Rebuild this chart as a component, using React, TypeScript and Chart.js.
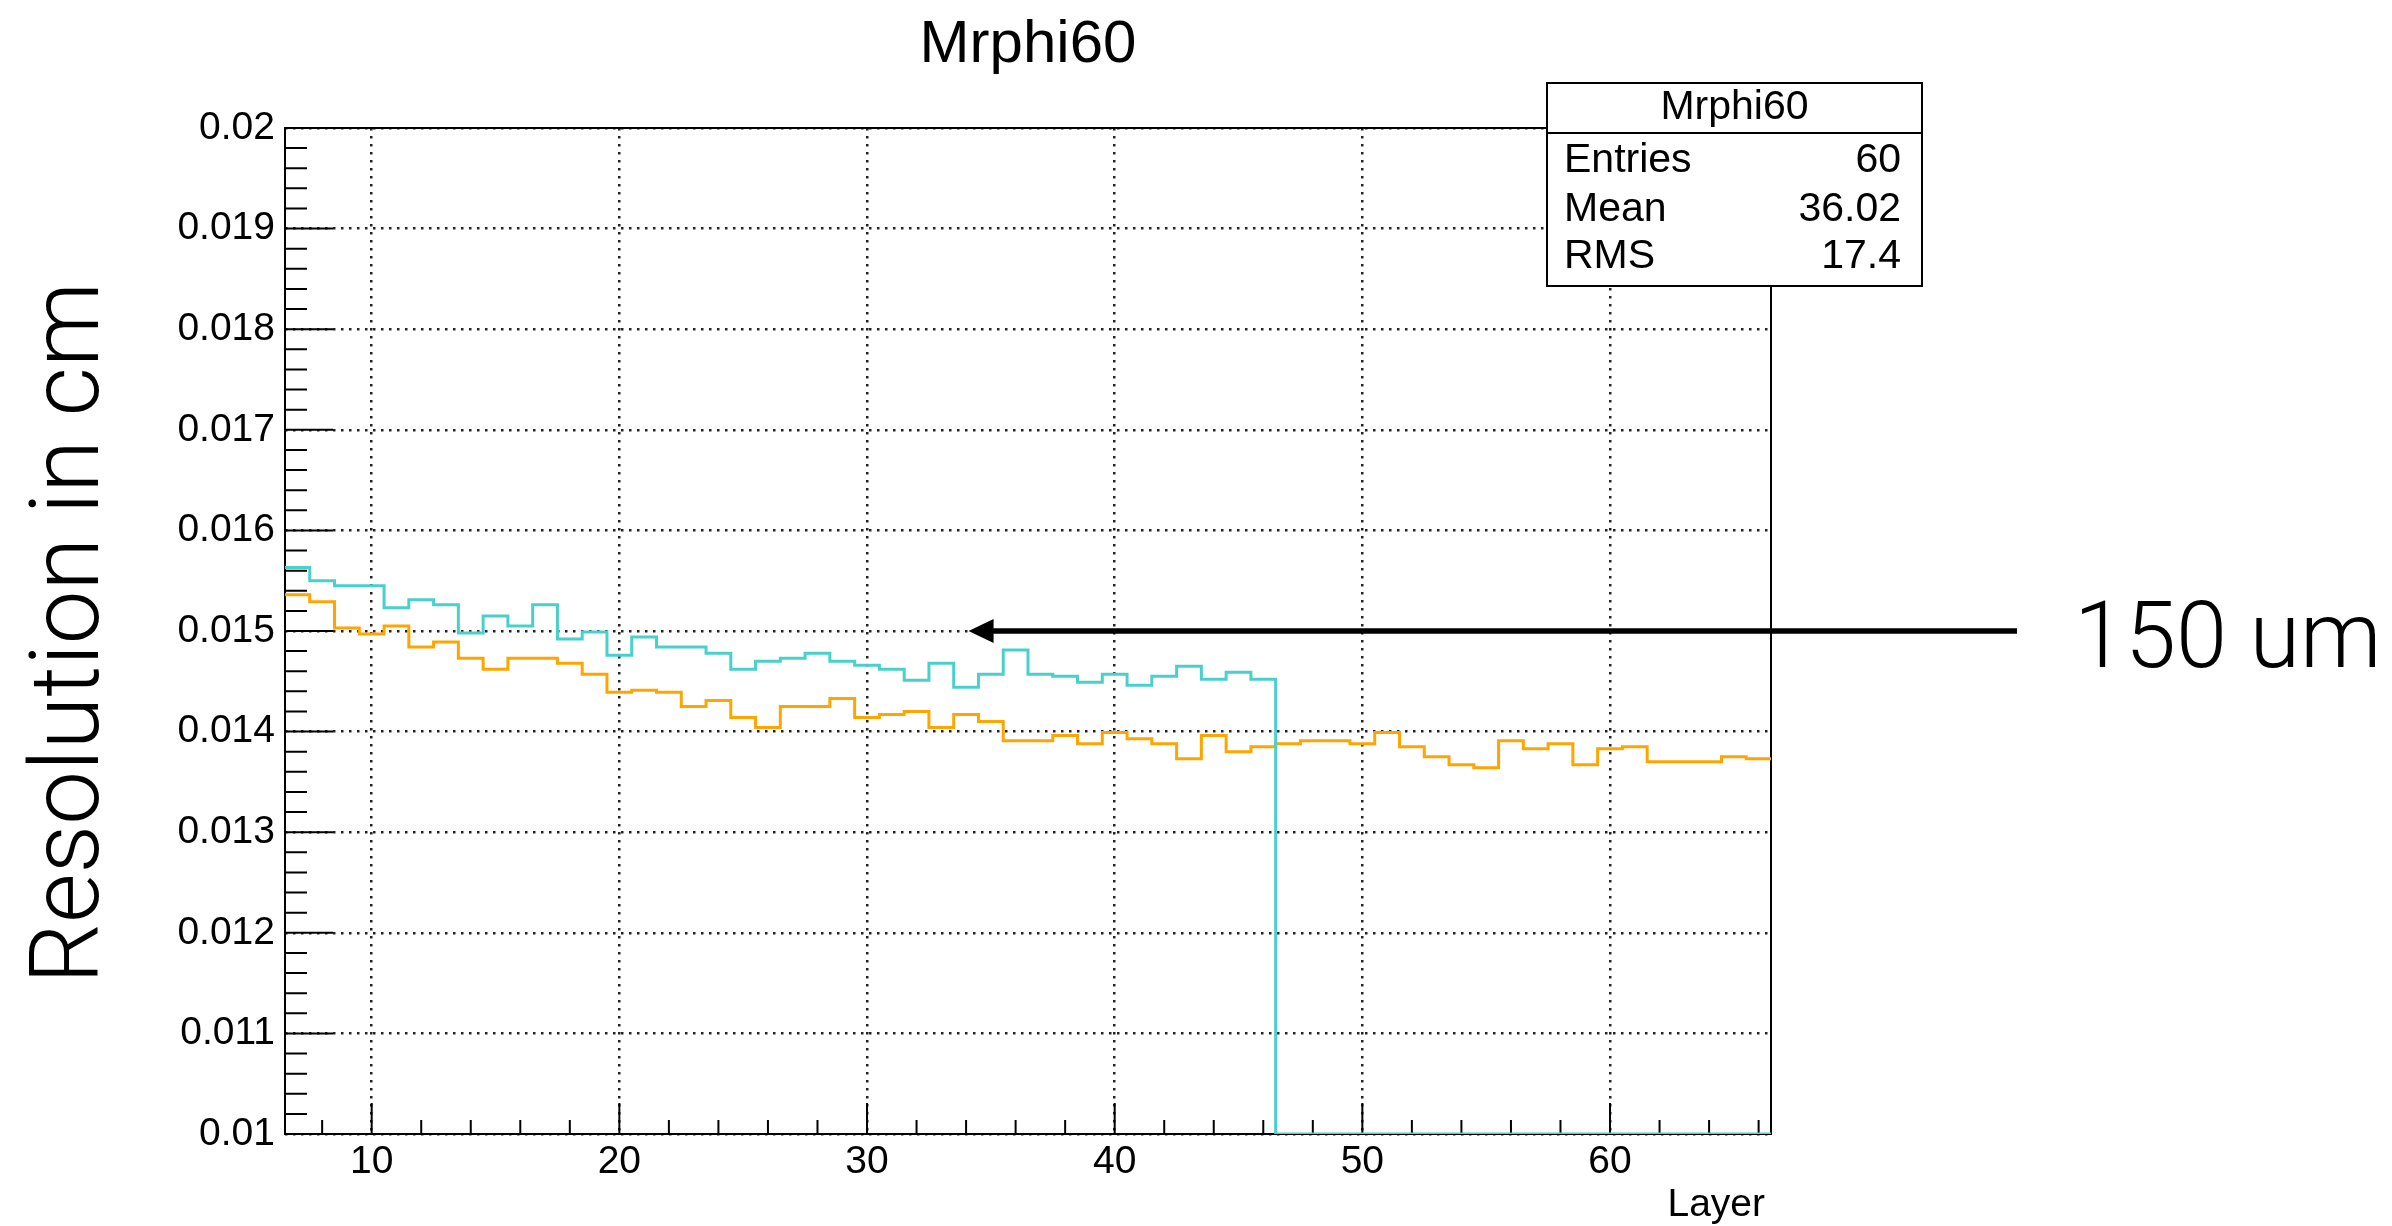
import React, { useEffect, useRef } from "react";
import { Chart, registerables } from "chart.js";

Chart.register(...registerables);

// ---- data ----
const LAYERS = [
  7, 8, 9, 10, 11, 12, 13, 14, 15, 16, 17, 18, 19, 20, 21, 22, 23, 24, 25, 26,
  27, 28, 29, 30, 31, 32, 33, 34, 35, 36, 37, 38, 39, 40, 41, 42, 43, 44, 45, 46,
  47, 48, 49, 50, 51, 52, 53, 54, 55, 56, 57, 58, 59, 60, 61, 62, 63, 64, 65, 66,
];

const RES_CYAN = [
  0.01563, 0.0155, 0.01545, 0.01545, 0.01523, 0.01531, 0.01526, 0.01498, 0.01515, 0.01505,
  0.01526, 0.01492, 0.01499, 0.01476, 0.01494, 0.01484, 0.01484, 0.01478, 0.01462, 0.0147,
  0.01473, 0.01478, 0.0147, 0.01466, 0.01462, 0.01451, 0.01468, 0.01444, 0.01457, 0.01481,
  0.01457, 0.01455, 0.01449, 0.01457, 0.01446, 0.01455, 0.01465, 0.01452, 0.01459, 0.01452,
  0, 0, 0, 0, 0, 0, 0, 0, 0, 0,
  0, 0, 0, 0, 0, 0, 0, 0, 0, 0,
];

const RES_ORANGE = [
  0.01536, 0.01529, 0.01503, 0.01497, 0.01505, 0.01484, 0.01489, 0.01473, 0.01462, 0.01473,
  0.01473, 0.01468, 0.01457, 0.01439, 0.01441, 0.01439, 0.01425, 0.01431, 0.01414, 0.01404,
  0.01425, 0.01425, 0.01433, 0.01414, 0.01417, 0.0142, 0.01404, 0.01417, 0.0141, 0.01391,
  0.01391, 0.01396, 0.01388, 0.01399, 0.01393, 0.01388, 0.01373, 0.01396, 0.0138, 0.01385,
  0.01388, 0.01391, 0.01391, 0.01388, 0.01399, 0.01385, 0.01375, 0.01367, 0.01364, 0.01391,
  0.01383, 0.01388, 0.01367, 0.01383, 0.01385, 0.0137, 0.0137, 0.0137, 0.01375, 0.01373,
];

const X_TICKS = [10, 20, 30, 40, 50, 60];
const Y_TICKS = [0.01, 0.011, 0.012, 0.013, 0.014, 0.015, 0.016, 0.017, 0.018, 0.019, 0.02];
const X_MIN = 6.5;
const X_MAX = 66.5;
const Y_MIN = 0.01;
const Y_MAX = 0.02;

const TITLE = "Mrphi60";
const X_TITLE = "Layer";
const Y_TITLE = "Resolution in cm";
const STAT_HEADER = "Mrphi60";
const STAT_NAMES = ["Entries", "Mean", "RMS"];
const STAT_VALUES = ["60", "36.02", "17.4"];
const NOTE_TEXT = "150 um";
const NOTE_VALUE = 0.015;
const ARROW_TIP_LAYER = 34.1;

// ---- styles ----
const ROOT_FONT = "'Liberation Sans', Arial, Helvetica, sans-serif";
const LIGHT_FONT = "Roboto, 'Liberation Sans', sans-serif";
const CYAN = "#48D1CC";
const ORANGE = "#FFA500";

function toSteps(values: number[]) {
  const pts = values.map((v, i) => ({ x: LAYERS[i] - 0.5, y: v }));
  pts.push({ x: LAYERS[LAYERS.length - 1] + 0.5, y: values[values.length - 1] });
  return pts;
}

const clampPlugin = {
  id: "frameClamp",
  afterDatasetsUpdate(chart: any) {
    const { top, bottom } = chart.chartArea;
    chart.data.datasets.forEach((_: any, i: number) => {
      const meta = chart.getDatasetMeta(i);
      meta.data.forEach((p: any) => {
        if (p.y > bottom) p.y = bottom;
        if (p.y < top) p.y = top;
      });
      if (meta.dataset) (meta.dataset as any)._path = undefined;
    });
  },
};

const decorPlugin = {
  id: "decor",
  beforeDatasetsDraw(chart: any) {
    const ctx = chart.ctx as CanvasRenderingContext2D;
    const a = chart.chartArea;
    const xs = chart.scales.x;
    const ys = chart.scales.y;
    ctx.save();
    ctx.strokeStyle = "#000";
    ctx.lineWidth = 2;
    ctx.strokeRect(a.left, a.top, a.right - a.left, a.bottom - a.top);
    ctx.beginPath();
    for (let k = 0; k <= 50; k++) {
      const v = Y_MIN + (k * (Y_MAX - Y_MIN)) / 50;
      const y = ys.getPixelForValue(v);
      const len = k % 5 === 0 ? 48 : 22;
      ctx.moveTo(a.left, y);
      ctx.lineTo(a.left + len, y);
    }
    for (let u = 8; u <= 66; u += 2) {
      const x = xs.getPixelForValue(u);
      const len = u % 10 === 0 ? 31 : 14;
      ctx.moveTo(x, a.bottom);
      ctx.lineTo(x, a.bottom - len);
    }
    ctx.stroke();
    ctx.restore();
  },
  afterDraw(chart: any) {
    const ctx = chart.ctx as CanvasRenderingContext2D;
    const a = chart.chartArea;
    const xs = chart.scales.x;
    const ys = chart.scales.y;
    ctx.save();
    ctx.fillStyle = "#000";

    // title
    ctx.font = `60px ${ROOT_FONT}`;
    ctx.textAlign = "center";
    ctx.textBaseline = "alphabetic";
    ctx.fillText(TITLE, (a.left + a.right) / 2, 62);

    // x title
    ctx.font = `39px ${ROOT_FONT}`;
    ctx.textAlign = "right";
    ctx.fillText(X_TITLE, a.right - 6, 1216);

    // stats box
    const bx0 = 1547, bx1 = 1922, by0 = 83, by1 = 286, bdiv = 133;
    ctx.fillStyle = "#fff";
    ctx.fillRect(bx0, by0, bx1 - bx0, by1 - by0);
    ctx.strokeStyle = "#000";
    ctx.lineWidth = 2;
    ctx.strokeRect(bx0, by0, bx1 - bx0, by1 - by0);
    ctx.beginPath();
    ctx.moveTo(bx0, bdiv);
    ctx.lineTo(bx1, bdiv);
    ctx.stroke();
    ctx.fillStyle = "#000";
    ctx.font = `41px ${ROOT_FONT}`;
    ctx.textAlign = "center";
    ctx.fillText(STAT_HEADER, (bx0 + bx1) / 2, 119);
    const rowBase = [172, 221, 268];
    STAT_NAMES.forEach((n, i) => {
      ctx.textAlign = "left";
      ctx.fillText(n, 1564, rowBase[i]);
      ctx.textAlign = "right";
      ctx.fillText(STAT_VALUES[i], 1901, rowBase[i]);
    });

    // y title (light)
    ctx.save();
    ctx.font = `300 96px ${LIGHT_FONT}`;
    ctx.translate(98, 633);
    ctx.rotate(-Math.PI / 2);
    ctx.textAlign = "center";
    ctx.textBaseline = "alphabetic";
    ctx.fillText(Y_TITLE, 0, 0);
    ctx.restore();

    // annotation arrow + text
    const ay = ys.getPixelForValue(NOTE_VALUE);
    const tip = xs.getPixelForValue(ARROW_TIP_LAYER);
    const tail = 2017;
    ctx.strokeStyle = "#000";
    ctx.lineWidth = 5.5;
    ctx.beginPath();
    ctx.moveTo(tail, ay);
    ctx.lineTo(tip + 20, ay);
    ctx.stroke();
    ctx.beginPath();
    ctx.moveTo(tip, ay);
    ctx.lineTo(tip + 25, ay - 12);
    ctx.lineTo(tip + 25, ay + 12);
    ctx.closePath();
    ctx.fill();

    ctx.font = `300 92px ${LIGHT_FONT}`;
    ctx.textAlign = "left";
    ctx.fillText(NOTE_TEXT, 2074, 667);
    ctx.restore();
  },
};

const gridOpts = {
  drawTicks: false,
  color: "#222",
  lineWidth: 2.5,
};
const borderOpts = { display: false, dash: [2.5, 5.5] };

export default function App() {
  const ref = useRef<HTMLCanvasElement>(null);
  useEffect(() => {
    document.body.style.margin = "0";
    const canvas = ref.current!;
    const chart = new Chart(canvas, {
      type: "line",
      data: {
        datasets: [
          {
            label: "cyan",
            data: toSteps(RES_CYAN),
            borderColor: CYAN,
            borderWidth: 3,
            stepped: true,
            pointRadius: 0,
            fill: false,
            order: 0,
          },
          {
            label: "Mrphi60",
            data: toSteps(RES_ORANGE),
            borderColor: ORANGE,
            borderWidth: 3,
            stepped: true,
            pointRadius: 0,
            fill: false,
            order: 1,
          },
        ],
      },
      options: {
        animation: false,
        responsive: false,
        devicePixelRatio: 1,
        layout: { padding: { left: 135, top: 128, right: 621, bottom: 32 } },
        plugins: {
          legend: { display: false },
          title: { display: false },
          tooltip: { enabled: false },
        },
        scales: {
          x: {
            type: "linear",
            min: X_MIN,
            max: X_MAX,
            afterBuildTicks: (s: any) => {
              s.ticks = X_TICKS.map((value) => ({ value }));
            },
            afterFit: (s: any) => {
              s.height = 60;
            },
            border: borderOpts,
            grid: gridOpts,
            ticks: {
              color: "#000",
              padding: 5,
              maxRotation: 0,
              autoSkip: false,
              font: { family: ROOT_FONT, size: 39 },
              callback: (v: any) => String(v),
            },
          },
          y: {
            type: "linear",
            min: Y_MIN,
            max: Y_MAX,
            afterBuildTicks: (s: any) => {
              s.ticks = Y_TICKS.map((value) => ({ value }));
            },
            afterFit: (s: any) => {
              s.width = 150;
            },
            border: borderOpts,
            grid: gridOpts,
            ticks: {
              color: "#000",
              padding: 10,
              autoSkip: false,
              font: { family: ROOT_FONT, size: 39 },
              callback: (v: any) => String(parseFloat(Number(v).toFixed(4))),
            },
          },
        },
      },
      plugins: [clampPlugin, decorPlugin],
    } as any);
    return () => chart.destroy();
  }, []);

  return (
    <div style={{ position: "fixed", left: 0, top: 0, width: 2392, height: 1226, background: "#fff" }}>
      <canvas ref={ref} width={2392} height={1226} style={{ width: 2392, height: 1226, display: "block" }} />
    </div>
  );
}
